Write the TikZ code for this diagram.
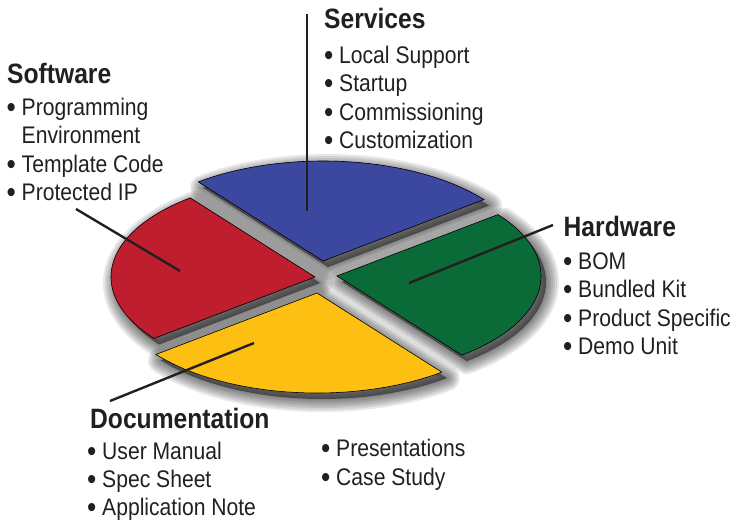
\documentclass[tikz,border=0pt]{standalone}
\usepackage{fontspec}
\setmainfont{Liberation Sans}[FakeStretch=0.88]
\definecolor{ink}{HTML}{231F20}
\definecolor{pieblue}{HTML}{3C47A0}
\definecolor{piered}{HTML}{BE1E2D}
\definecolor{piegreen}{HTML}{0B6B38}
\definecolor{pieyellow}{HTML}{FDC012}
\newcommand{\bul}{\makebox[15pt][l]{\raisebox{-2pt}{\fontsize{30}{30}\selectfont •}}}
\newcommand{\nobul}{\makebox[15pt][l]{}}
\begin{document}
\begin{tikzpicture}[x=1pt,y=-1pt,
  head/.style={anchor=base west, inner sep=0pt, text=ink, font=\fontsize{28}{30}\selectfont\bfseries},
  item/.style={anchor=base west, inner sep=0pt, text=ink, font=\fontsize{24}{28}\selectfont},
  leader/.style={draw=ink, line width=2.4pt},
  slice/.style={draw=black, line width=0.6pt, line join=miter}]
\useasboundingbox (0,0) rectangle (736,523);

% soft shadows
\foreach \px/\py/\ta/\tb in {323/261/-127.7/-37.9, 315/277/142.1/232.3, 317/293/52.3/142.1, 337/276/-37.9/52.3}{
  \begin{scope}[shift={(\px+5,\py+6)}]
    \foreach \w in {26,22,18,14,10,6,2}
      \draw[line width=\w pt, draw=black, draw opacity=0.09, line join=round]
        (0,0) -- plot[domain=\ta:\tb, samples=60, variable=\t] ({204*cos(\t)},{100*sin(\t)}) -- cycle;
    \fill[black, opacity=0.45]
      (0,0) -- plot[domain=\ta:\tb, samples=60, variable=\t] ({204*cos(\t)},{100*sin(\t)}) -- cycle;
  \end{scope}
}

% pie sectors
\foreach \px/\py/\ta/\tb/\col in {323/261/-127.7/-37.9/pieblue, 315/277/142.1/232.3/piered, 317/293/52.3/142.1/pieyellow, 337/276/-37.9/52.3/piegreen}{
  \begin{scope}[shift={(\px,\py)}]
    \filldraw[slice, fill=\col]
      (0,0) -- plot[domain=\ta:\tb, samples=80, variable=\t] ({204*cos(\t)},{100*sin(\t)}) -- cycle;
  \end{scope}
}

% leader lines
\coordinate (svA) at (307,14);  \coordinate (svB) at (307,211);
\coordinate (swA) at (76,209);  \coordinate (swB) at (180,271);
\coordinate (hwA) at (553,225); \coordinate (hwB) at (409,283);
\coordinate (dcA) at (110,401); \coordinate (dcB) at (254,343);
\draw[leader] (svA) -- (svB);
\draw[leader] (swA) -- (swB);
\draw[leader] (hwA) -- (hwB);
\draw[leader] (dcA) -- (dcB);

% Software
\node[head] (swH) at (7,83) {Software};
\node[item] (sw1) at (6.5,115) {\bul Programming};
\node[item] (sw2) at (6.5,143.5) {\nobul Environment};
\node[item] (sw3) at (6.5,172) {\bul Template Code};
\node[item] (sw4) at (6.5,200.5) {\bul Protected IP};

% Services
\node[head] (svH) at (324,28.5) {Services};
\node[item] (sv1) at (324,63) {\bul Local Support};
\node[item] (sv2) at (324,91.5) {\bul Startup};
\node[item] (sv3) at (324,120) {\bul Commissioning};
\node[item] (sv4) at (324,148.5) {\bul Customization};

% Hardware
\node[head] (hwH) at (563.5,236.5) {Hardware};
\node[item] (hw1) at (563,269) {\bul BOM};
\node[item] (hw2) at (563,297.5) {\bul Bundled Kit};
\node[item] (hw3) at (563,326) {\bul Product Specific};
\node[item] (hw4) at (563,354.5) {\bul Demo Unit};

% Documentation
\node[head] (dcH) at (90,428.5) {Documentation};
\node[item] (dc1) at (87,459) {\bul User Manual};
\node[item] (dc2) at (87,487) {\bul Spec Sheet};
\node[item] (dc3) at (87,515) {\bul Application Note};
\node[item] (dc4) at (321,456) {\bul Presentations};
\node[item] (dc5) at (321,485) {\bul Case Study};
\end{tikzpicture}
\end{document}
